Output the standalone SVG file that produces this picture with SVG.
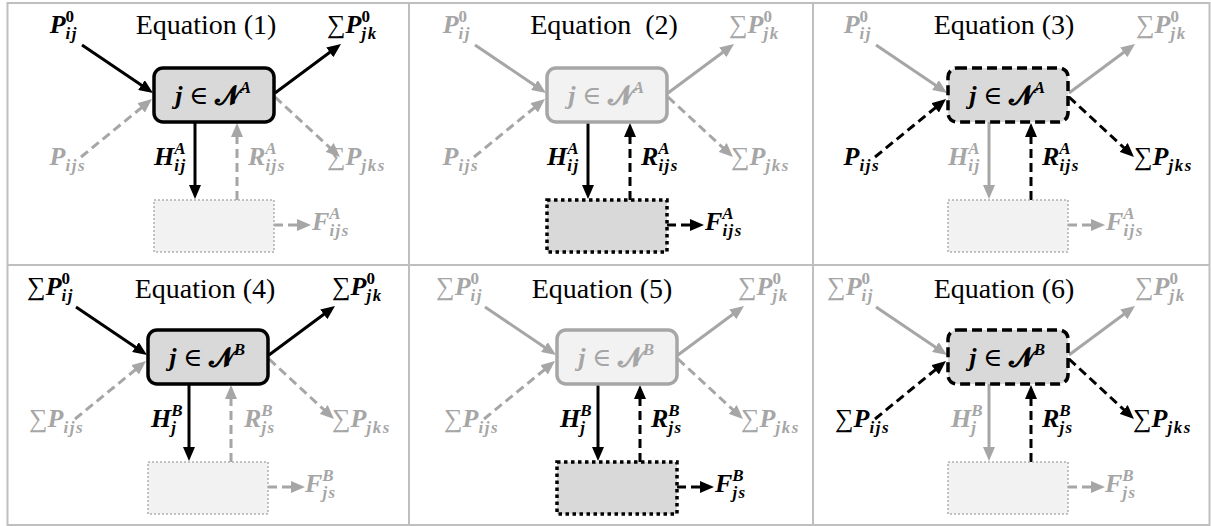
<svg xmlns="http://www.w3.org/2000/svg" width="1211" height="526" viewBox="0 0 1211 526">
<style>
.grid{fill:none;stroke:#bfbfbf;stroke-width:2}
.title{font-family:"Liberation Serif","Times New Roman",serif;font-size:28px;fill:#000;text-anchor:middle}
.m{font-family:"Liberation Serif","DejaVu Serif",serif;font-size:26px;font-weight:bold;font-style:italic}
.s{font-size:17px;letter-spacing:1.5px}
.u{font-style:normal}
.r{font-weight:normal;font-style:normal}
.scr{font-family:"DejaVu Serif","DejaVu Sans","Noto Sans",serif;font-weight:bold;font-style:normal}
.k{fill:#000}
.g{fill:#a6a6a6}
.sk{stroke:#000;stroke-width:3;fill:none}
.sg{stroke:#a6a6a6;stroke-width:3;fill:none}
.dk{stroke:#000;stroke-width:3;fill:none;stroke-dasharray:9 5}
.dg{stroke:#a6a6a6;stroke-width:3;fill:none;stroke-dasharray:9 5}
.nk{fill:#d9d9d9;stroke:#000;stroke-width:3.5}
.ng{fill:#f2f2f2;stroke:#a6a6a6;stroke-width:3.5}
.nd{fill:#d9d9d9;stroke:#000;stroke-width:3.5;stroke-dasharray:10 5}
.bg{fill:#f2f2f2;stroke:#b0b0b0;stroke-width:1.5;stroke-dasharray:2 2}
.bk{fill:#d9d9d9;stroke:#000;stroke-width:3.5;stroke-dasharray:3.5 3.5}
</style>
<defs>
<marker id="ak" markerUnits="userSpaceOnUse" markerWidth="14" markerHeight="12" refX="6" refY="6" orient="auto"><path d="M0,0 L14,6 L0,12 z" fill="#000"/></marker>
<marker id="ag" markerUnits="userSpaceOnUse" markerWidth="14" markerHeight="12" refX="6" refY="6" orient="auto"><path d="M0,0 L14,6 L0,12 z" fill="#a6a6a6"/></marker>
</defs>
<rect width="1211" height="526" fill="#fff"/>
<g id="grid">
<rect class="grid" x="7.5" y="3" width="1202" height="522"/>
<line class="grid" x1="409" y1="3" x2="409" y2="525"/>
<line class="grid" x1="813" y1="3" x2="813" y2="525"/>
<line class="grid" x1="7.5" y1="265" x2="1209.5" y2="265"/>
</g>

<!-- Panel 1 -->
<g id="panel1" transform="translate(214,95)">
<text class="title" x="-8" y="-61">Equation (1)</text>
<g id="p1-connectors">
<line class="sk" x1="-132" y1="-50" x2="-67.6" y2="-6.5" marker-end="url(#ak)"/>
<line class="sk" x1="61" y1="-2" x2="120.6" y2="-46.2" marker-end="url(#ak)"/>
<line class="dg" x1="-133" y1="62" x2="-68.2" y2="9.1" marker-end="url(#ag)"/>
<line class="dg" x1="61" y1="2" x2="120.1" y2="56.6" marker-end="url(#ag)"/>
<line class="sk" x1="-19" y1="27" x2="-19" y2="96" marker-end="url(#ak)"/>
<line class="dg" x1="23" y1="105" x2="23" y2="36" marker-end="url(#ag)"/>
<line class="dg" x1="60" y1="130" x2="89" y2="130" marker-end="url(#ag)"/>
</g>
<g id="p1-node"><rect class="nk" x="-60" y="-27" width="120" height="54" rx="9"/>
<text class="m k" x="0" y="9" text-anchor="middle">j<tspan class="r"> ∈ </tspan><tspan class="scr">𝓝</tspan><tspan class="s" dy="-11">A</tspan></text></g>
<g id="p1-store"><rect class="bg" x="-60" y="105" width="120" height="52"/></g>
<g id="p1-labels">
<text class="m k" x="-136" y="-62" text-anchor="end">P<tspan class="s u" dy="-11">0</tspan><tspan class="s" dx="-10" dy="17">ij</tspan></text>
<text class="m k" x="113" y="-62"><tspan class="r">∑</tspan>P<tspan class="s u" dy="-11">0</tspan><tspan class="s" dx="-10" dy="17">jk</tspan></text>
<text class="m g" x="-128" y="70" text-anchor="end">P<tspan class="s" dy="6">ijs</tspan></text>
<text class="m g" x="113" y="70"><tspan class="r">∑</tspan>P<tspan class="s" dy="6">jks</tspan></text>
<text class="m k" x="-27" y="70" text-anchor="end">H<tspan class="s" dy="-11">A</tspan><tspan class="s" dx="-12.8" dy="17">ij</tspan></text>
<text class="m g" x="34" y="70">R<tspan class="s" dy="-11">A</tspan><tspan class="s" dx="-12.8" dy="17">ijs</tspan></text>
<text class="m g" x="98" y="135">F<tspan class="s" dy="-11">A</tspan><tspan class="s" dx="-12.8" dy="17">ijs</tspan></text>
</g>
</g>

<!-- Panel 2 -->
<g id="panel2" transform="translate(607,95)">
<text class="title" x="-3" y="-61" xml:space="preserve">Equation  (2)</text>
<g id="p2-connectors">
<line class="sg" x1="-132" y1="-50" x2="-67.6" y2="-6.5" marker-end="url(#ag)"/>
<line class="sg" x1="61" y1="-2" x2="120.6" y2="-46.2" marker-end="url(#ag)"/>
<line class="dg" x1="-133" y1="62" x2="-68.2" y2="9.1" marker-end="url(#ag)"/>
<line class="dg" x1="61" y1="2" x2="120.1" y2="56.6" marker-end="url(#ag)"/>
<line class="sk" x1="-19" y1="27" x2="-19" y2="96" marker-end="url(#ak)"/>
<line class="dk" x1="23" y1="105" x2="23" y2="36" marker-end="url(#ak)"/>
<line class="dk" x1="60" y1="130" x2="89" y2="130" marker-end="url(#ak)"/>
</g>
<g id="p2-node"><rect class="ng" x="-60" y="-27" width="120" height="54" rx="9"/>
<text class="m g" x="0" y="9" text-anchor="middle">j<tspan class="r"> ∈ </tspan><tspan class="scr">𝓝</tspan><tspan class="s" dy="-11">A</tspan></text></g>
<g id="p2-store"><rect class="bk" x="-60" y="105" width="120" height="52"/></g>
<g id="p2-labels">
<text class="m g" x="-136" y="-62" text-anchor="end">P<tspan class="s u" dy="-11">0</tspan><tspan class="s" dx="-10" dy="17">ij</tspan></text>
<text class="m g" x="122" y="-62"><tspan class="r">∑</tspan>P<tspan class="s u" dy="-11">0</tspan><tspan class="s" dx="-10" dy="17">jk</tspan></text>
<text class="m g" x="-128" y="70" text-anchor="end">P<tspan class="s" dy="6">ijs</tspan></text>
<text class="m g" x="124" y="70"><tspan class="r">∑</tspan>P<tspan class="s" dy="6">jks</tspan></text>
<text class="m k" x="-27" y="70" text-anchor="end">H<tspan class="s" dy="-11">A</tspan><tspan class="s" dx="-12.8" dy="17">ij</tspan></text>
<text class="m k" x="34" y="70">R<tspan class="s" dy="-11">A</tspan><tspan class="s" dx="-12.8" dy="17">ijs</tspan></text>
<text class="m k" x="98" y="135">F<tspan class="s" dy="-11">A</tspan><tspan class="s" dx="-12.8" dy="17">ijs</tspan></text>
</g>
</g>

<!-- Panel 3 -->
<g id="panel3" transform="translate(1008,95)">
<text class="title" x="-4" y="-61">Equation (3)</text>
<g id="p3-connectors">
<line class="sg" x1="-132" y1="-50" x2="-67.6" y2="-6.5" marker-end="url(#ag)"/>
<line class="sg" x1="61" y1="-2" x2="120.6" y2="-46.2" marker-end="url(#ag)"/>
<line class="dk" x1="-133" y1="62" x2="-68.2" y2="9.1" marker-end="url(#ak)"/>
<line class="dk" x1="61" y1="2" x2="120.1" y2="56.6" marker-end="url(#ak)"/>
<line class="sg" x1="-19" y1="27" x2="-19" y2="96" marker-end="url(#ag)"/>
<line class="dk" x1="23" y1="105" x2="23" y2="36" marker-end="url(#ak)"/>
<line class="dg" x1="60" y1="130" x2="89" y2="130" marker-end="url(#ag)"/>
</g>
<g id="p3-node"><rect class="nd" x="-60" y="-27" width="120" height="54" rx="9"/>
<text class="m k" x="0" y="9" text-anchor="middle">j<tspan class="r"> ∈ </tspan><tspan class="scr">𝓝</tspan><tspan class="s" dy="-11">A</tspan></text></g>
<g id="p3-store"><rect class="bg" x="-60" y="105" width="120" height="52"/></g>
<g id="p3-labels">
<text class="m g" x="-136" y="-62" text-anchor="end">P<tspan class="s u" dy="-11">0</tspan><tspan class="s" dx="-10" dy="17">ij</tspan></text>
<text class="m g" x="128" y="-62"><tspan class="r">∑</tspan>P<tspan class="s u" dy="-11">0</tspan><tspan class="s" dx="-10" dy="17">jk</tspan></text>
<text class="m k" x="-128" y="70" text-anchor="end">P<tspan class="s" dy="6">ijs</tspan></text>
<text class="m k" x="126" y="70"><tspan class="r">∑</tspan>P<tspan class="s" dy="6">jks</tspan></text>
<text class="m g" x="-27" y="70" text-anchor="end">H<tspan class="s" dy="-11">A</tspan><tspan class="s" dx="-12.8" dy="17">ij</tspan></text>
<text class="m k" x="34" y="70">R<tspan class="s" dy="-11">A</tspan><tspan class="s" dx="-12.8" dy="17">ijs</tspan></text>
<text class="m g" x="98" y="135">F<tspan class="s" dy="-11">A</tspan><tspan class="s" dx="-12.8" dy="17">ijs</tspan></text>
</g>
</g>

<!-- Panel 4 -->
<g id="panel4" transform="translate(208,357)">
<text class="title" x="-3" y="-59">Equation (4)</text>
<g id="p4-connectors">
<line class="sk" x1="-132" y1="-50" x2="-67.6" y2="-6.5" marker-end="url(#ak)"/>
<line class="sk" x1="61" y1="-2" x2="120.6" y2="-46.2" marker-end="url(#ak)"/>
<line class="dg" x1="-133" y1="62" x2="-68.2" y2="9.1" marker-end="url(#ag)"/>
<line class="dg" x1="61" y1="2" x2="120.1" y2="56.6" marker-end="url(#ag)"/>
<line class="sk" x1="-19" y1="27" x2="-19" y2="96" marker-end="url(#ak)"/>
<line class="dg" x1="23" y1="105" x2="23" y2="36" marker-end="url(#ag)"/>
<line class="dg" x1="60" y1="130" x2="89" y2="130" marker-end="url(#ag)"/>
</g>
<g id="p4-node"><rect class="nk" x="-60" y="-27" width="120" height="54" rx="9"/>
<text class="m k" x="0" y="9" text-anchor="middle">j<tspan class="r"> ∈ </tspan><tspan class="scr">𝓝</tspan><tspan class="s" dy="-11">B</tspan></text></g>
<g id="p4-store"><rect class="bg" x="-60" y="105" width="120" height="52"/></g>
<g id="p4-labels">
<text class="m k" x="-134" y="-62" text-anchor="end"><tspan class="r">∑</tspan>P<tspan class="s u" dy="-11">0</tspan><tspan class="s" dx="-10" dy="17">ij</tspan></text>
<text class="m k" x="124" y="-62"><tspan class="r">∑</tspan>P<tspan class="s u" dy="-11">0</tspan><tspan class="s" dx="-10" dy="17">jk</tspan></text>
<text class="m g" x="-124" y="70" text-anchor="end"><tspan class="r">∑</tspan>P<tspan class="s" dy="6">ijs</tspan></text>
<text class="m g" x="124" y="70"><tspan class="r">∑</tspan>P<tspan class="s" dy="6">jks</tspan></text>
<text class="m k" x="-24" y="70" text-anchor="end">H<tspan class="s" dy="-11">B</tspan><tspan class="s" dx="-12.8" dy="17">j</tspan></text>
<text class="m g" x="36" y="70">R<tspan class="s" dy="-11">B</tspan><tspan class="s" dx="-12.8" dy="17">js</tspan></text>
<text class="m g" x="97" y="135">F<tspan class="s" dy="-11">B</tspan><tspan class="s" dx="-12.8" dy="17">js</tspan></text>
</g>
</g>

<!-- Panel 5 -->
<g id="panel5" transform="translate(617,357)">
<text class="title" x="-15" y="-59">Equation (5)</text>
<g id="p5-connectors">
<line class="sg" x1="-132" y1="-50" x2="-67.6" y2="-6.5" marker-end="url(#ag)"/>
<line class="sg" x1="61" y1="-2" x2="120.6" y2="-46.2" marker-end="url(#ag)"/>
<line class="dg" x1="-133" y1="62" x2="-68.2" y2="9.1" marker-end="url(#ag)"/>
<line class="dg" x1="61" y1="2" x2="120.1" y2="56.6" marker-end="url(#ag)"/>
<line class="sk" x1="-19" y1="27" x2="-19" y2="96" marker-end="url(#ak)"/>
<line class="dk" x1="23" y1="105" x2="23" y2="36" marker-end="url(#ak)"/>
<line class="dk" x1="60" y1="130" x2="89" y2="130" marker-end="url(#ak)"/>
</g>
<g id="p5-node"><rect class="ng" x="-60" y="-27" width="120" height="54" rx="9"/>
<text class="m g" x="0" y="9" text-anchor="middle">j<tspan class="r"> ∈ </tspan><tspan class="scr">𝓝</tspan><tspan class="s" dy="-11">B</tspan></text></g>
<g id="p5-store"><rect class="bk" x="-60" y="105" width="120" height="52"/></g>
<g id="p5-labels">
<text class="m g" x="-134" y="-62" text-anchor="end"><tspan class="r">∑</tspan>P<tspan class="s u" dy="-11">0</tspan><tspan class="s" dx="-10" dy="17">ij</tspan></text>
<text class="m g" x="121" y="-62"><tspan class="r">∑</tspan>P<tspan class="s u" dy="-11">0</tspan><tspan class="s" dx="-10" dy="17">jk</tspan></text>
<text class="m g" x="-118" y="70" text-anchor="end"><tspan class="r">∑</tspan>P<tspan class="s" dy="6">ijs</tspan></text>
<text class="m g" x="124" y="70"><tspan class="r">∑</tspan>P<tspan class="s" dy="6">jks</tspan></text>
<text class="m k" x="-24" y="70" text-anchor="end">H<tspan class="s" dy="-11">B</tspan><tspan class="s" dx="-12.8" dy="17">j</tspan></text>
<text class="m k" x="34" y="70">R<tspan class="s" dy="-11">B</tspan><tspan class="s" dx="-12.8" dy="17">js</tspan></text>
<text class="m k" x="98" y="135">F<tspan class="s" dy="-11">B</tspan><tspan class="s" dx="-12.8" dy="17">js</tspan></text>
</g>
</g>

<!-- Panel 6 -->
<g id="panel6" transform="translate(1008,357)">
<text class="title" x="-4" y="-59">Equation (6)</text>
<g id="p6-connectors">
<line class="sg" x1="-132" y1="-50" x2="-67.6" y2="-6.5" marker-end="url(#ag)"/>
<line class="sg" x1="61" y1="-2" x2="120.6" y2="-46.2" marker-end="url(#ag)"/>
<line class="dk" x1="-133" y1="62" x2="-68.2" y2="9.1" marker-end="url(#ak)"/>
<line class="dk" x1="61" y1="2" x2="120.1" y2="56.6" marker-end="url(#ak)"/>
<line class="sg" x1="-19" y1="27" x2="-19" y2="96" marker-end="url(#ag)"/>
<line class="dk" x1="23" y1="105" x2="23" y2="36" marker-end="url(#ak)"/>
<line class="dg" x1="60" y1="130" x2="89" y2="130" marker-end="url(#ag)"/>
</g>
<g id="p6-node"><rect class="nd" x="-60" y="-27" width="120" height="54" rx="9"/>
<text class="m k" x="0" y="9" text-anchor="middle">j<tspan class="r"> ∈ </tspan><tspan class="scr">𝓝</tspan><tspan class="s" dy="-11">B</tspan></text></g>
<g id="p6-store"><rect class="bg" x="-60" y="105" width="120" height="52"/></g>
<g id="p6-labels">
<text class="m g" x="-134" y="-62" text-anchor="end"><tspan class="r">∑</tspan>P<tspan class="s u" dy="-11">0</tspan><tspan class="s" dx="-10" dy="17">ij</tspan></text>
<text class="m g" x="127" y="-62"><tspan class="r">∑</tspan>P<tspan class="s u" dy="-11">0</tspan><tspan class="s" dx="-10" dy="17">jk</tspan></text>
<text class="m k" x="-118" y="70" text-anchor="end"><tspan class="r">∑</tspan>P<tspan class="s" dy="6">ijs</tspan></text>
<text class="m k" x="125" y="70"><tspan class="r">∑</tspan>P<tspan class="s" dy="6">jks</tspan></text>
<text class="m g" x="-24" y="70" text-anchor="end">H<tspan class="s" dy="-11">B</tspan><tspan class="s" dx="-12.8" dy="17">j</tspan></text>
<text class="m k" x="34" y="70">R<tspan class="s" dy="-11">B</tspan><tspan class="s" dx="-12.8" dy="17">js</tspan></text>
<text class="m g" x="97" y="135">F<tspan class="s" dy="-11">B</tspan><tspan class="s" dx="-12.8" dy="17">js</tspan></text>
</g>
</g>
</svg>
